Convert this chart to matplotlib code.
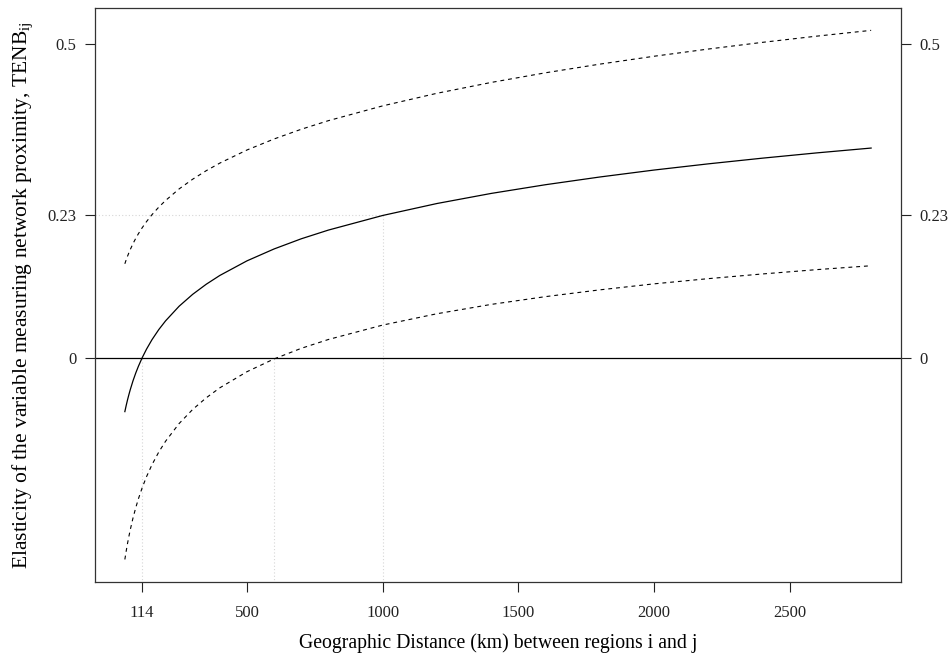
import numpy as np
import matplotlib
matplotlib.use('Agg')
import matplotlib.pyplot as plt

plt.rcParams['font.family'] = ['Liberation Serif', 'DejaVu Serif']
plt.rcParams['mathtext.fontset'] = 'custom'
plt.rcParams['mathtext.rm'] = 'Liberation Serif'
plt.rcParams['mathtext.it'] = 'Liberation Serif'

# distance (km) and estimated elasticity with confidence band
distance = [50, 55, 60, 65, 70, 80, 90, 100, 114, 130, 150, 175, 200, 250, 300, 350, 400,
            500, 600, 700, 800, 1000, 1200, 1400, 1600, 1800, 2000, 2200, 2400, 2600, 2800]
elasticity = [-0.0861, -0.0762, -0.0671, -0.0588, -0.0510, -0.0370, -0.0247, -0.0137, 0.0,
              0.0137, 0.0287, 0.0448, 0.0587, 0.0821, 0.1011, 0.1172, 0.1312, 0.1545, 0.1735,
              0.1897, 0.2036, 0.2269, 0.2460, 0.2621, 0.2760, 0.2883, 0.2994, 0.3093, 0.3184,
              0.3268, 0.3345]
upper = [0.1498, 0.1562, 0.1620, 0.1675, 0.1726, 0.1819, 0.1903, 0.1978, 0.2074, 0.2172,
         0.2282, 0.2402, 0.2508, 0.2693, 0.2848, 0.2984, 0.3105, 0.3314, 0.3490, 0.3645,
         0.3782, 0.4018, 0.4219, 0.4392, 0.4546, 0.4684, 0.4810, 0.4925, 0.5032, 0.5131, 0.5223]
lower = [-0.3220, -0.3086, -0.2962, -0.2850, -0.2746, -0.2559, -0.2397, -0.2252, -0.2074,
         -0.1898, -0.1708, -0.1506, -0.1334, -0.1051, -0.0826, -0.0640, -0.0481, -0.0224,
         -0.0020, 0.0149, 0.0290, 0.0520, 0.0701, 0.0850, 0.0974, 0.1082, 0.1178, 0.1261,
         0.1336, 0.1405, 0.1467]

x_ticks = [114, 500, 1000, 1500, 2000, 2500]
y_ticks = [0, 0.227, 0.5]
y_labels = ['0', '0.23', '0.5']
ref_zero_x = [114, 600]   # where center / lower band cross zero
ref_x = 1000
ref_y = 0.227

fig = plt.figure(figsize=(9.49, 6.61), dpi=100)
ax = fig.add_axes([0.1001, 0.1195, 0.8493, 0.8684])

grey = '#d6d6d6'
for xv in ref_zero_x:
    ax.plot([xv, xv], [-0.36, 0], color=grey, lw=0.8, ls=(0, (1, 2)))
ax.plot([ref_x, ref_x], [-0.36, ref_y], color=grey, lw=0.8, ls=(0, (1, 2)))
ax.plot([-60, ref_x], [ref_y, ref_y], color=grey, lw=0.8, ls=(0, (1, 2)))
ax.axhline(0, color='black', lw=0.9)

ax.plot(distance, elasticity, color='black', lw=0.9)
ax.plot(distance, upper, color='black', lw=0.8, ls=(0, (3.5, 3.5)))
ax.plot(distance, lower, color='black', lw=0.8, ls=(0, (3.5, 3.5)))

ax.set_xlim(-60, 2910)
ax.set_ylim(-0.358, 0.558)

ax.set_xticks(x_ticks)
ax.set_xticklabels([str(t) for t in x_ticks])
ax.set_yticks(y_ticks)
ax.set_yticklabels(y_labels)
ax.tick_params(axis='both', direction='out', length=7.2, width=0.8, labelsize=12,
               colors='#222222')
ax.tick_params(axis='x', pad=9)
ax.tick_params(axis='y', left=True, right=True, labelleft=True, labelright=True, pad=6)
for s in ax.spines.values():
    s.set_linewidth(0.9)
    s.set_color('#333333')

ax.set_xlabel('Geographic Distance (km) between regions i and j', fontsize=14.2, labelpad=9)
ax.set_ylabel(r'Elasticity of the variable measuring network proximity, TENB$_{\mathrm{ij}}$',
              fontsize=15.5, labelpad=9)

fig.savefig('out.png', dpi=100)
